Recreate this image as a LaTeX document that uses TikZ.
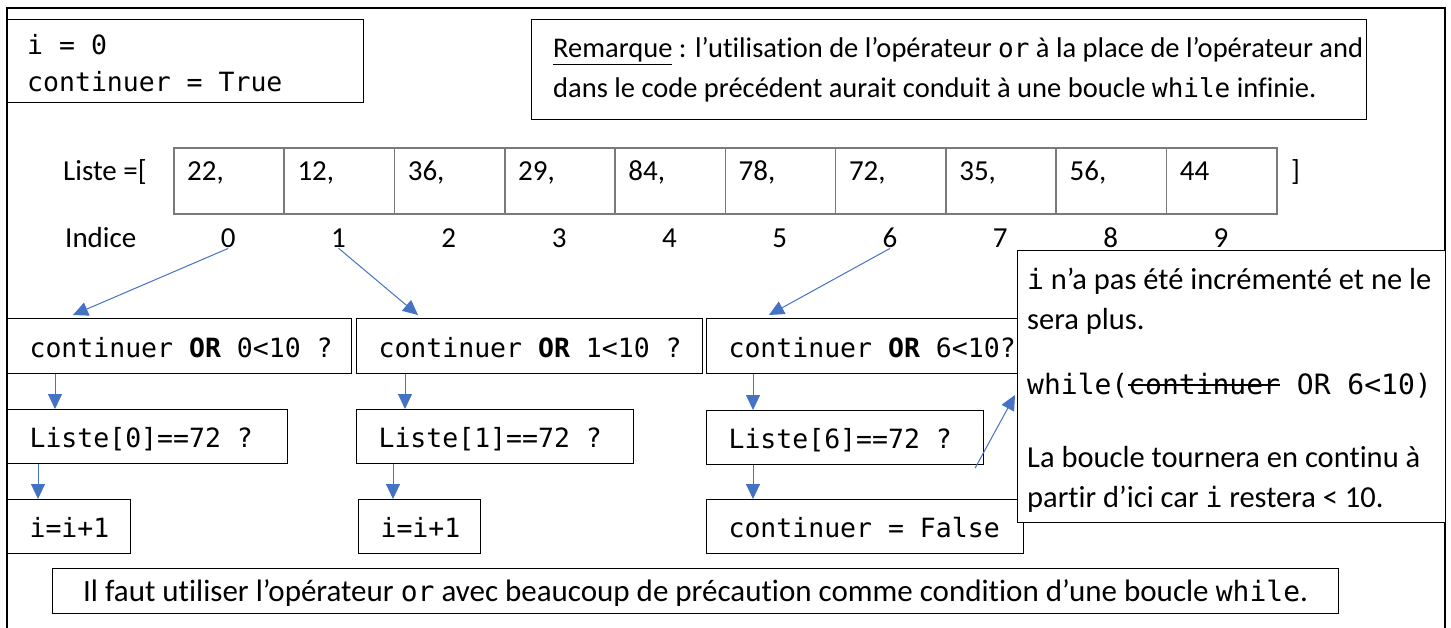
\documentclass[tikz,border=0pt]{standalone}
\usepackage{fontspec}
\setmainfont{Carlito}[Ligatures={TeX,NoCommon}]
\newfontfamily\mono{DejaVu Sans Mono}
\usetikzlibrary{arrows.meta,calc}
\definecolor{flowblue}{HTML}{4472C4}
\definecolor{cellgray}{HTML}{7A7A7A}
\newsavebox\strikebox
\newcommand\strikeout[1]{\sbox\strikebox{#1}\rlap{\rule[0.27em]{\wd\strikebox}{0.08em}}\usebox\strikebox}
\newcommand\codeword[2][26]{{\mono\fontsize{#1}{#1}\selectfont #2}}
\newcommand\txtsize[1]{\fontsize{#1}{#1}\selectfont}
\newcommand\codesize{\mono\fontsize{26.5}{30}\selectfont}
% a code box: name, north-west corner, width, height, text
\newcommand\codebox[5]{\node[codebox, minimum width=#3, minimum height=#4] (#1) at (#2)
  {\makebox[\dimexpr#3-44pt\relax][l]{#5}};}
\begin{document}
\begin{tikzpicture}[x=1pt,y=-1pt,
  frameline/.style={line width=1.1pt},
  plainbox/.style={draw, line width=1.1pt, anchor=north west, inner sep=0pt},
  codebox/.style={draw, line width=1.1pt, anchor=north west, inner xsep=22pt, inner ysep=0pt,
    text height=25pt, text depth=3pt, font=\codesize},
  cell/.style={draw=cellgray, line width=1.6pt, minimum width=110.3pt, minimum height=66pt,
    inner sep=0pt, anchor=north west},
  txt/.style={anchor=base west, inner sep=0pt, font=\txtsize{29}},
  notetxt/.style={anchor=base west, inner sep=0pt, font=\txtsize{30.5}},
  codetxt/.style={anchor=base west, inner sep=0pt, font=\codesize},
  flow/.style={draw=flowblue, line width=1pt, -{Triangle[length=15pt,width=14pt]}}]
\useasboundingbox (0,0) rectangle (1451,628);

% outer frame, open at the bottom
\draw[frameline] (7,628) -- (7,8) -- (1445,8) -- (1445,628);

% initial values
\node[plainbox, minimum width=356pt, minimum height=83pt] (init) at (7,19) {};
\node[codetxt] (init1) at (27,55) {i = 0};
\node[codetxt] (init2) at (27,92) {continuer = True};

% remark
\node[plainbox, minimum width=835pt, minimum height=100pt] (remark) at (531,19) {};
\node[txt, font=\txtsize{28.5}] (rem1) at (553,58)
  {\underline{Remarque} : l'utilisation de l'opérateur \codeword{or} à la place de l'opérateur and};
\node[txt, font=\txtsize{28.5}] (rem2) at (553,98)
  {dans le code précédent aurait conduit à une boucle \codeword{while} infinie.};

% the list and its indices
\node[txt] (liste) at (63,181) {Liste =[};
\node[txt] (close) at (1291,181) {]};
\node[txt] (indice) at (65,248) {Indice};
\foreach \v [count=\k from 0] in {22,12,36,29,84,78,72,35,56,44} {
  \node[cell] (c\k) at ({173+110.3*\k},147) {};
  \node[txt] (v\k) at ($(c\k.north west)+(14,34)$) {\v\ifnum\k<9,\fi};
  \node[txt, anchor=base] (d\k) at ({228.2+110.3*\k},248) {\k};
}

% first column: i = 0
\codebox{orA}{7,318}{344pt}{55pt}{continuer \textbf{OR} 0<10 ?}
\codebox{eqA}{7,409}{280pt}{54pt}{Liste[0]==72 ?}
\codebox{incA}{7,499}{123pt}{54pt}{i=i+1}

% second column: i = 1
\codebox{orB}{356,318}{346pt}{55pt}{continuer \textbf{OR} 1<10 ?}
\codebox{eqB}{356,409}{277pt}{54pt}{Liste[1]==72 ?}
\codebox{incB}{358,499}{122pt}{54pt}{i=i+1}

% third column: i = 6
\codebox{orC}{706,318}{334pt}{55pt}{continuer \textbf{OR} 6<10?}
\codebox{eqC}{706,410}{277pt}{54pt}{Liste[6]==72 ?}
\codebox{stopC}{706,499}{317pt}{54pt}{continuer = False}

% connectors
\draw[flow] (d0.south) -- ($(orA.north west)+(66,-3)$);
\draw[flow] (d1.south) -- ($(orB.north west)+(62,-3)$);
\draw[flow] (d6.south) -- ($(orC.north west)+(63,-3)$);
\draw[flow] ($(orA.south west)+(48,0)$) -- ($(eqA.north west)+(48,0)$);
\draw[flow] ($(eqA.south west)+(31,0)$) -- ($(incA.north west)+(31,0)$);
\draw[flow] ($(orB.south west)+(49,0)$) -- ($(eqB.north west)+(49,0)$);
\draw[flow] ($(eqB.south west)+(37,0)$) -- ($(incB.north west)+(35,0)$);
\draw[flow] ($(orC.south west)+(47,0)$) -- ($(eqC.north west)+(47,0)$);
\draw[flow] ($(eqC.south west)+(47,0)$) -- ($(stopC.north west)+(47,0)$);

% note on the endless loop
\node[plainbox, fill=white, minimum width=428pt, minimum height=272pt] (note) at (1017,250) {};
\node[notetxt] (note1) at (1027,290) {\codeword[28]{i} n'a pas été incrémenté et ne le};
\node[notetxt] (note2) at (1027,330) {sera plus.};
\node[codetxt, font=\mono\txtsize{28}] (note3) at (1027,394) {while(\strikeout{continuer} OR 6<10)};
\node[notetxt] (note4) at (1027,467) {La boucle tournera en continu à};
\node[notetxt] (note5) at (1027,507) {partir d'ici car \codeword[28]{i} restera < 10.};
\draw[flow] ($(eqC.south east)+(-9,3)$) -- ($(note.north west)+(-2,145)$);

% closing advice
\node[plainbox, minimum width=1286pt, minimum height=45pt, inner sep=0pt,
  text height=28pt, text depth=7pt, font=\txtsize{31}] (advice) at (52,568)
  {Il faut utiliser l'opérateur \codeword[28]{or} avec beaucoup de précaution comme condition d'une boucle \codeword[28]{while}.};
\end{tikzpicture}
\end{document}
